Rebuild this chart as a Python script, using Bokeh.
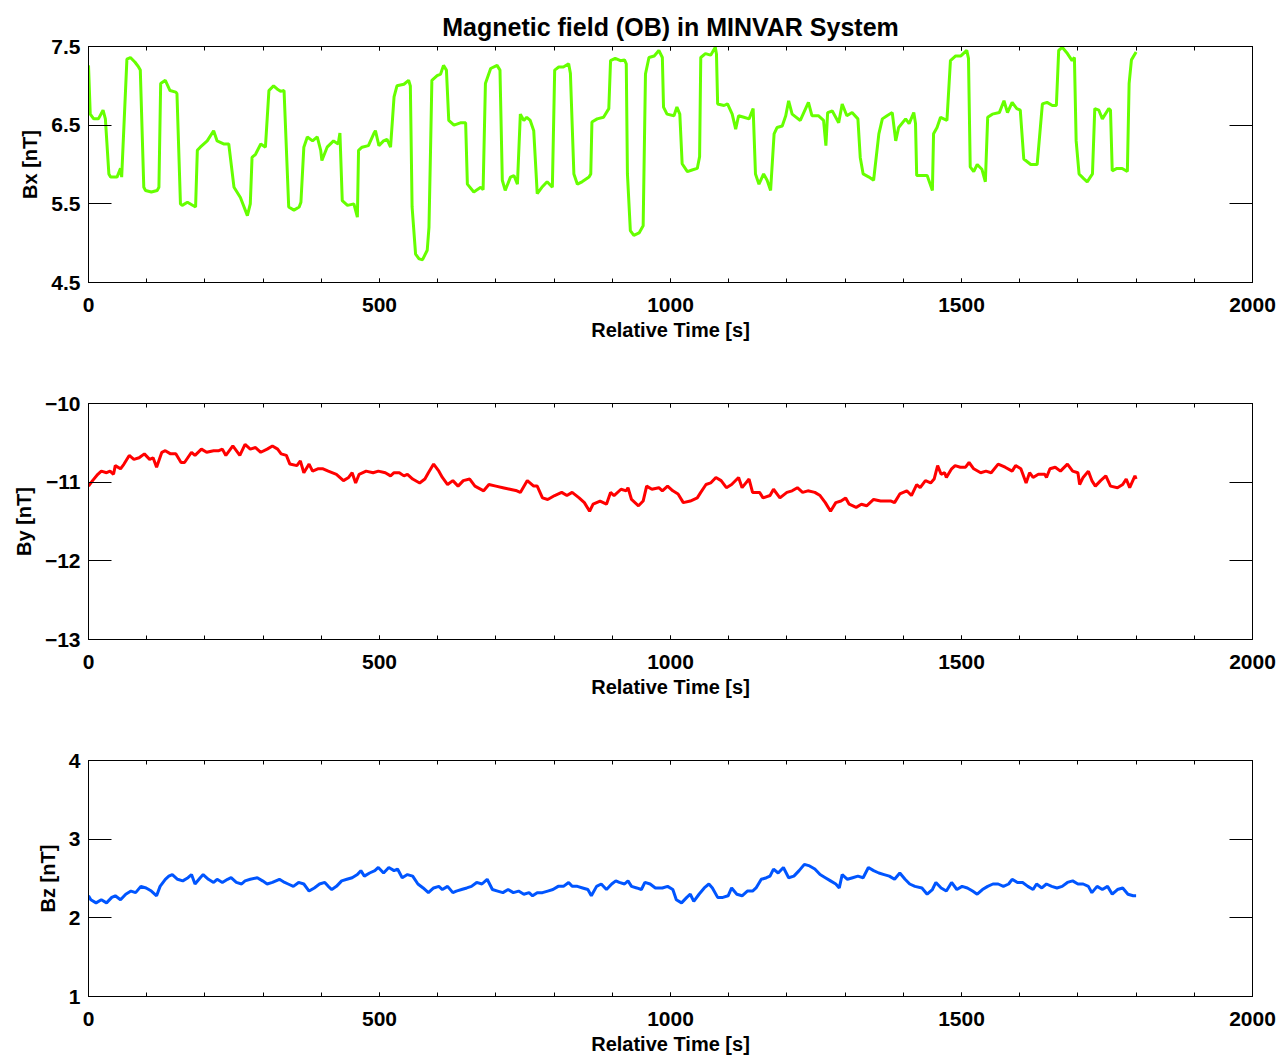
from bokeh.plotting import figure
from bokeh.layouts import column
from bokeh.models import Range1d, LinearAxis, FixedTicker, SingleIntervalTicker, CustomJSTickFormatter
from bokeh.embed import file_html
from bokeh.resources import INLINE

TITLE = "Magnetic field (OB) in MINVAR System"
XLABEL = "Relative Time [s]"
YLABELS = ["Bx [nT]", "By [nT]", "Bz [nT]"]
X_RANGE = (0, 2000)
BX_RANGE = (4.5, 7.5)
BY_RANGE = (-13, -10)
BZ_RANGE = (1, 4)
BX_TICKS = [4.5, 5.5, 6.5, 7.5]
BY_TICKS = [-13, -12, -11, -10]
BZ_TICKS = [1, 2, 3, 4]

# (time [s], value [nT])
bx = [(0, 7.26), (3, 6.64), (9, 6.58), (17, 6.58), (25, 6.69), (29, 6.58), (35, 5.88), (38, 5.84),
      (49, 5.84), (55, 5.95), (57, 5.84), (66, 7.34), (72, 7.36), (80, 7.30), (86, 7.24), (89, 7.20),
      (95, 5.71), (98, 5.67), (108, 5.65), (118, 5.67), (121, 5.71), (124, 7.03), (132, 7.07), (140, 6.94),
      (150, 6.92), (152, 6.90), (158, 5.50), (161, 5.48), (170, 5.52), (184, 5.46), (187, 6.18), (192, 6.22),
      (204, 6.30), (215, 6.43), (221, 6.30), (233, 6.26), (241, 6.26), (250, 5.71), (261, 5.58), (273, 5.35),
      (278, 5.50), (281, 6.09), (287, 6.13), (296, 6.26), (304, 6.22), (310, 6.94), (318, 7.00), (324, 6.96),
      (330, 6.93), (336, 6.94), (344, 5.46), (353, 5.42), (362, 5.46), (365, 5.52), (370, 6.22), (376, 6.35),
      (385, 6.30), (393, 6.35), (399, 6.18), (401, 6.05), (410, 6.22), (421, 6.30), (429, 6.26), (432, 6.40),
      (436, 5.54), (445, 5.48), (456, 5.50), (462, 5.33), (464, 6.18), (470, 6.22), (481, 6.24), (490, 6.39),
      (493, 6.43), (499, 6.24), (507, 6.30), (513, 6.32), (519, 6.22), (525, 6.86), (530, 7.00), (542, 7.02),
      (550, 7.07), (553, 7.00), (556, 5.46), (562, 4.86), (568, 4.80), (574, 4.79), (582, 4.91), (585, 5.20),
      (588, 6.30), (590, 7.07), (599, 7.13), (605, 7.15), (610, 7.26), (615, 7.20), (619, 6.56), (628, 6.50),
      (639, 6.53), (648, 6.53), (651, 5.75), (662, 5.65), (674, 5.71), (678, 5.68), (682, 7.03), (691, 7.22),
      (702, 7.26), (707, 7.20), (711, 5.80), (716, 5.67), (725, 5.84), (731, 5.86), (737, 5.75), (742, 6.64),
      (748, 6.56), (753, 6.60), (759, 6.56), (765, 6.43), (771, 5.63), (779, 5.71), (788, 5.78), (797, 5.71),
      (801, 7.20), (808, 7.24), (816, 7.24), (825, 7.28), (828, 7.16), (834, 5.88), (840, 5.75), (848, 5.78),
      (860, 5.84), (863, 5.88), (865, 6.54), (874, 6.58), (885, 6.60), (894, 6.71), (897, 7.32), (905, 7.35),
      (914, 7.32), (921, 7.33), (924, 7.28), (926, 5.88), (931, 5.16), (937, 5.10), (946, 5.13), (953, 5.22),
      (957, 7.15), (963, 7.36), (972, 7.38), (980, 7.45), (986, 7.36), (988, 6.73), (994, 6.64), (1006, 6.62),
      (1011, 6.73), (1016, 6.64), (1020, 6.01), (1029, 5.91), (1037, 5.93), (1046, 5.95), (1050, 6.10),
      (1052, 7.36), (1060, 7.41), (1069, 7.39), (1077, 7.49), (1079, 7.40), (1081, 6.77), (1092, 6.75),
      (1098, 6.77), (1106, 6.64), (1112, 6.45), (1117, 6.62), (1126, 6.60), (1135, 6.58), (1142, 6.71),
      (1146, 5.88), (1152, 5.75), (1160, 5.88), (1166, 5.80), (1172, 5.67), (1178, 6.39), (1183, 6.47),
      (1192, 6.49), (1198, 6.62), (1203, 6.81), (1209, 6.64), (1223, 6.56), (1237, 6.79), (1243, 6.62),
      (1254, 6.62), (1263, 6.56), (1267, 6.24), (1270, 6.66), (1278, 6.68), (1289, 6.53), (1295, 6.77),
      (1303, 6.62), (1312, 6.66), (1322, 6.58), (1326, 6.09), (1331, 5.88), (1341, 5.84), (1349, 5.80),
      (1358, 6.39), (1364, 6.58), (1372, 6.62), (1381, 6.66), (1387, 6.30), (1392, 6.47), (1404, 6.58),
      (1410, 6.52), (1418, 6.66), (1421, 6.52), (1423, 5.86), (1432, 5.86), (1441, 5.86), (1450, 5.67),
      (1452, 6.39), (1458, 6.47), (1464, 6.60), (1475, 6.56), (1481, 7.32), (1490, 7.38), (1499, 7.38),
      (1509, 7.45), (1512, 7.35), (1515, 5.97), (1521, 5.91), (1527, 6.00), (1535, 5.94), (1541, 5.78),
      (1545, 6.60), (1553, 6.64), (1565, 6.66), (1573, 6.81), (1579, 6.66), (1587, 6.79), (1595, 6.71),
      (1601, 6.69), (1607, 6.07), (1619, 6.00), (1630, 6.00), (1639, 6.77), (1647, 6.79), (1656, 6.75),
      (1663, 6.75), (1667, 7.45), (1673, 7.49), (1682, 7.41), (1690, 7.32), (1694, 7.36), (1697, 6.30),
      (1702, 5.88), (1710, 5.82), (1716, 5.78), (1725, 5.88), (1729, 6.71), (1736, 6.69), (1742, 6.58),
      (1753, 6.71), (1756, 6.69), (1759, 5.92), (1767, 5.95), (1776, 5.95), (1785, 5.91), (1788, 7.03),
      (1792, 7.33), (1800, 7.43)]

by = [(0, -11.05), (7, -10.98), (16, -10.90), (22, -10.86), (31, -10.88), (37, -10.86), (43, -10.90),
      (46, -10.79), (55, -10.83), (61, -10.77), (70, -10.66), (78, -10.71), (87, -10.69), (96, -10.64),
      (105, -10.71), (111, -10.69), (117, -10.81), (126, -10.62), (132, -10.60), (141, -10.64), (150, -10.64),
      (159, -10.75), (165, -10.75), (177, -10.62), (183, -10.66), (194, -10.58), (203, -10.62), (215, -10.60),
      (224, -10.60), (230, -10.58), (236, -10.66), (248, -10.54), (254, -10.60), (260, -10.66), (269, -10.52),
      (278, -10.58), (287, -10.56), (296, -10.62), (307, -10.58), (316, -10.54), (325, -10.58), (331, -10.64),
      (340, -10.66), (346, -10.77), (358, -10.79), (364, -10.73), (370, -10.88), (379, -10.77), (385, -10.86),
      (394, -10.83), (403, -10.83), (412, -10.86), (426, -10.90), (438, -10.98), (447, -10.94), (453, -10.88),
      (459, -11.01), (465, -10.90), (477, -10.86), (489, -10.88), (498, -10.86), (510, -10.88), (519, -10.92),
      (525, -10.88), (534, -10.88), (542, -10.92), (548, -10.90), (557, -10.96), (569, -11.01), (578, -10.96),
      (584, -10.88), (593, -10.77), (602, -10.86), (608, -10.94), (617, -11.03), (626, -10.98), (635, -11.05),
      (644, -10.98), (655, -10.96), (664, -11.05), (679, -11.11), (688, -11.03), (700, -11.05), (712, -11.07),
      (724, -11.09), (736, -11.11), (742, -11.13), (754, -10.98), (765, -11.05), (771, -11.05), (780, -11.20),
      (789, -11.22), (801, -11.17), (813, -11.13), (822, -11.17), (831, -11.13), (843, -11.20), (852, -11.26),
      (861, -11.37), (867, -11.28), (879, -11.24), (890, -11.28), (897, -11.13), (903, -11.17), (915, -11.09),
      (924, -11.11), (927, -11.07), (933, -11.22), (945, -11.30), (953, -11.24), (959, -11.05), (968, -11.09),
      (980, -11.07), (986, -11.11), (995, -11.05), (1004, -11.11), (1013, -11.15), (1022, -11.26), (1034, -11.24),
      (1046, -11.20), (1052, -11.13), (1061, -11.03), (1069, -11.01), (1078, -10.94), (1087, -10.98),
      (1096, -11.07), (1105, -11.03), (1117, -10.94), (1123, -11.07), (1135, -10.96), (1141, -11.13),
      (1153, -11.13), (1159, -11.20), (1171, -11.17), (1177, -11.09), (1188, -11.20), (1200, -11.13),
      (1209, -11.11), (1218, -11.07), (1227, -11.13), (1236, -11.11), (1248, -11.13), (1257, -11.17),
      (1266, -11.26), (1275, -11.37), (1284, -11.26), (1293, -11.24), (1301, -11.20), (1307, -11.28),
      (1319, -11.32), (1328, -11.28), (1337, -11.30), (1349, -11.22), (1361, -11.24), (1370, -11.24),
      (1379, -11.24), (1385, -11.26), (1394, -11.15), (1406, -11.11), (1414, -11.17), (1423, -11.03),
      (1429, -11.07), (1438, -10.98), (1447, -11.01), (1453, -10.96), (1459, -10.79), (1465, -10.90),
      (1471, -10.88), (1474, -10.94), (1483, -10.83), (1489, -10.79), (1498, -10.81), (1507, -10.81),
      (1513, -10.75), (1521, -10.83), (1533, -10.88), (1542, -10.86), (1551, -10.88), (1563, -10.77),
      (1575, -10.81), (1587, -10.86), (1593, -10.79), (1602, -10.83), (1611, -11.01), (1617, -10.88),
      (1623, -10.94), (1632, -10.90), (1643, -10.90), (1646, -10.94), (1652, -10.83), (1661, -10.81),
      (1670, -10.86), (1682, -10.77), (1691, -10.86), (1700, -10.88), (1703, -11.03), (1709, -10.94),
      (1718, -10.86), (1724, -10.98), (1730, -11.05), (1739, -10.98), (1748, -10.92), (1756, -11.05),
      (1768, -11.07), (1777, -11.03), (1783, -10.96), (1789, -11.07), (1798, -10.92), (1800, -10.96)]

bz = [(0, 2.28), (4, 2.23), (13, 2.19), (22, 2.23), (31, 2.19), (40, 2.26), (46, 2.28), (55, 2.23),
      (64, 2.30), (73, 2.34), (81, 2.32), (90, 2.40), (99, 2.38), (108, 2.34), (117, 2.28), (123, 2.40),
      (132, 2.49), (138, 2.53), (144, 2.55), (153, 2.49), (162, 2.47), (171, 2.51), (177, 2.55), (183, 2.43),
      (192, 2.51), (197, 2.55), (206, 2.49), (215, 2.45), (221, 2.49), (230, 2.45), (239, 2.49), (245, 2.51),
      (254, 2.45), (263, 2.43), (269, 2.47), (278, 2.49), (290, 2.51), (299, 2.47), (307, 2.43), (316, 2.45),
      (328, 2.49), (337, 2.45), (343, 2.43), (352, 2.40), (361, 2.45), (370, 2.43), (379, 2.34), (388, 2.38),
      (397, 2.43), (406, 2.45), (412, 2.40), (418, 2.36), (426, 2.40), (435, 2.47), (444, 2.49), (453, 2.51),
      (462, 2.55), (468, 2.60), (474, 2.53), (483, 2.57), (492, 2.60), (498, 2.64), (507, 2.57), (516, 2.64),
      (525, 2.60), (531, 2.62), (539, 2.51), (548, 2.55), (557, 2.53), (566, 2.43), (575, 2.38), (584, 2.32),
      (593, 2.38), (602, 2.40), (608, 2.36), (617, 2.40), (626, 2.32), (632, 2.34), (641, 2.36), (650, 2.38),
      (658, 2.40), (667, 2.45), (676, 2.43), (685, 2.49), (694, 2.36), (703, 2.34), (712, 2.32), (721, 2.36),
      (730, 2.32), (739, 2.34), (748, 2.30), (757, 2.32), (763, 2.28), (771, 2.32), (780, 2.32), (789, 2.34),
      (798, 2.36), (807, 2.40), (816, 2.40), (825, 2.45), (831, 2.40), (840, 2.40), (849, 2.38), (858, 2.36),
      (864, 2.28), (873, 2.40), (881, 2.43), (890, 2.36), (899, 2.43), (906, 2.47), (912, 2.45), (921, 2.43),
      (927, 2.47), (933, 2.40), (942, 2.38), (950, 2.36), (956, 2.45), (965, 2.43), (974, 2.38), (986, 2.38),
      (995, 2.40), (1004, 2.36), (1010, 2.23), (1019, 2.19), (1028, 2.26), (1034, 2.30), (1040, 2.21),
      (1049, 2.30), (1058, 2.38), (1066, 2.43), (1072, 2.38), (1081, 2.26), (1090, 2.26), (1099, 2.28),
      (1105, 2.38), (1114, 2.30), (1123, 2.28), (1132, 2.34), (1141, 2.34), (1147, 2.38), (1156, 2.49),
      (1165, 2.51), (1171, 2.53), (1177, 2.62), (1185, 2.57), (1194, 2.64), (1203, 2.51), (1212, 2.53),
      (1221, 2.60), (1230, 2.68), (1239, 2.66), (1248, 2.62), (1257, 2.55), (1266, 2.51), (1275, 2.47),
      (1284, 2.43), (1290, 2.38), (1295, 2.55), (1304, 2.49), (1313, 2.51), (1322, 2.53), (1331, 2.51),
      (1340, 2.64), (1349, 2.60), (1358, 2.57), (1367, 2.55), (1376, 2.53), (1385, 2.49), (1394, 2.57),
      (1403, 2.49), (1411, 2.43), (1420, 2.40), (1432, 2.38), (1441, 2.30), (1450, 2.36), (1456, 2.45),
      (1465, 2.38), (1474, 2.34), (1483, 2.45), (1492, 2.36), (1501, 2.40), (1510, 2.38), (1519, 2.34),
      (1527, 2.30), (1536, 2.36), (1545, 2.40), (1554, 2.43), (1563, 2.43), (1572, 2.40), (1581, 2.43),
      (1587, 2.49), (1596, 2.45), (1605, 2.45), (1614, 2.40), (1623, 2.36), (1629, 2.43), (1638, 2.38),
      (1646, 2.43), (1655, 2.40), (1664, 2.38), (1673, 2.40), (1682, 2.45), (1691, 2.47), (1700, 2.43),
      (1709, 2.43), (1718, 2.40), (1724, 2.32), (1733, 2.40), (1742, 2.36), (1751, 2.40), (1759, 2.30),
      (1768, 2.36), (1777, 2.38), (1786, 2.30), (1795, 2.28), (1800, 2.28)]

bx_t = [a for a, b in bx]
bx_v = [b for a, b in bx]
by_t = [a for a, b in by]
by_v = [b for a, b in by]
bz_t = [a for a, b in bz]
bz_v = [b for a, b in bz]

FONT = "Liberation Sans"
EMPTY = "return ''"


def style_axis(ax, tick_in, minor_in=0):
    ax.axis_line_color = "black"
    ax.axis_line_width = 1
    ax.major_tick_line_color = "black"
    ax.major_tick_in = tick_in
    ax.major_tick_out = 0
    if minor_in:
        ax.minor_tick_line_color = "black"
        ax.minor_tick_in = minor_in
        ax.minor_tick_out = 0
    else:
        ax.minor_tick_line_color = None
    ax.major_label_text_font = FONT
    ax.major_label_text_font_size = "21px"
    ax.major_label_text_font_style = "bold"
    ax.major_label_text_color = "black"
    ax.axis_label_text_font = FONT
    ax.axis_label_text_font_size = "20px"
    ax.axis_label_text_font_style = "bold"
    ax.axis_label_text_color = "black"


def make_panel(t, v, color, yr, yticks, ylabel, height, bottom, title=None):
    p = figure(width=1287, height=height, output_backend="svg", toolbar_location=None,
               x_range=Range1d(*X_RANGE), y_range=Range1d(*yr),
               min_border_left=88, min_border_right=35, min_border_top=46,
               min_border_bottom=bottom, x_axis_label=XLABEL, y_axis_label=ylabel)
    p.grid.visible = False
    p.outline_line_color = "black"
    p.outline_line_width = 1
    p.background_fill_color = "white"
    p.border_fill_color = "white"

    xa = p.xaxis[0]
    xa.ticker = SingleIntervalTicker(interval=500, num_minor_ticks=5)
    style_axis(xa, 4, 4)
    xa.major_label_standoff = 15
    xa.axis_label_standoff = 4

    ya = p.yaxis[0]
    ya.ticker = FixedTicker(ticks=yticks)
    style_axis(ya, 23)
    ya.major_label_standoff = 8
    ya.axis_label_standoff = 7

    top = LinearAxis(ticker=SingleIntervalTicker(interval=500, num_minor_ticks=5),
                     formatter=CustomJSTickFormatter(code=EMPTY))
    style_axis(top, 4, 4)
    top.major_label_standoff = 0
    p.add_layout(top, "above")

    right = LinearAxis(ticker=FixedTicker(ticks=yticks), formatter=CustomJSTickFormatter(code=EMPTY))
    style_axis(right, 23)
    right.major_label_standoff = 0
    p.add_layout(right, "right")

    if title:
        p.title.text = title
        p.title.align = "center"
        p.title.text_font = FONT
        p.title.text_font_size = "25px"
        p.title.text_font_style = "bold"
        p.title.text_color = "black"
        p.title.standoff = 12

    p.line(t, v, line_color=color, line_width=3)
    return p


p1 = make_panel(bx_t, bx_v, "#66ff00", BX_RANGE, BX_TICKS, YLABELS[0], 357, 75, TITLE)
p2 = make_panel(by_t, by_v, "#ff0000", BY_RANGE, BY_TICKS, YLABELS[1], 357, 75)
p3 = make_panel(bz_t, bz_v, "#0055ff", BZ_RANGE, BZ_TICKS, YLABELS[2], 346, 64)

layout = column(p1, p2, p3, spacing=0)
open("out.html", "w").write(file_html(layout, INLINE))
